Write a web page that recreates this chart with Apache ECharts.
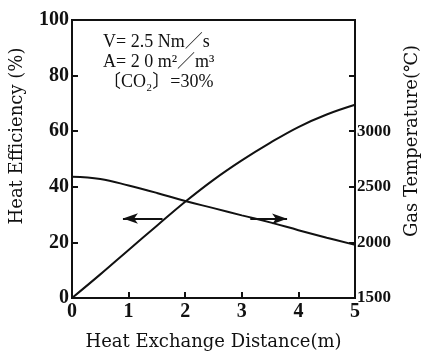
<!DOCTYPE html>
<html>
<head>
<meta charset="utf-8">
<script src="https://cdn.jsdelivr.net/npm/echarts@6/dist/echarts.min.js"></script>
<style>
  html, body { margin: 0; padding: 0; background: #fff; }
  #chart { width: 429px; height: 356px; }
</style>
</head>
<body>
<div id="chart"></div>
<script>
// distance along the exchanger (m)
const distance = [0, 0.5, 1, 1.5, 2, 2.5, 3, 3.5, 4, 4.5, 5];
// heat efficiency (%) - left axis
const efficiency = [0, 8.5, 17.3, 26, 34.6, 42.5, 49.5, 55.8, 61.5, 66, 69.5];
// gas temperature (C) - right axis
const gasTemp = [2590, 2570, 2512, 2445, 2372, 2308, 2243, 2180, 2110, 2042, 1978];

const xTicks = [0, 1, 2, 3, 4, 5];
const tempLabels = [1500, 2000, 2500, 3000];

const font = 'Liberation Serif';
const titleFont = 'DejaVu Serif';
const ink = '#111';

const chart = echarts.init(document.getElementById('chart'));

const arrowLine = {
  silent: true, symbol: ['none', 'arrow'], symbolSize: [8, 15],
  label: { show: false },
  lineStyle: { color: ink, width: 2, type: 'solid' }
};

const option = {
  animation: false,
  grid: {
    left: 70, right: 72, top: 20, bottom: 53,
    show: true, borderColor: ink, borderWidth: 2
  },
  xAxis: {
    type: 'value', min: 0, max: 5, interval: 1,
    name: 'Heat Exchange Distance(m)',
    nameLocation: 'middle', nameGap: 35,
    nameTextStyle: { fontFamily: titleFont, fontSize: 18, color: ink },
    axisLine: { lineStyle: { color: ink, width: 2 } },
    axisTick: { inside: true, length: 6, lineStyle: { color: ink, width: 2 } },
    axisLabel: {
      fontFamily: font, fontSize: 20, fontWeight: 'bold', color: ink, margin: 4,
      formatter: v => xTicks.includes(v) ? String(v) : ''
    },
    splitLine: { show: false }
  },
  yAxis: [
    {
      type: 'value', min: 0, max: 100, interval: 20,
      name: 'Heat Efficiency (%)',
      nameLocation: 'middle', nameGap: 46, nameRotate: 90,
      nameTextStyle: { fontFamily: titleFont, fontSize: 18, color: ink, padding: [0, 0, 0, 46] },
      axisLine: { show: true, lineStyle: { color: ink, width: 2 } },
      axisTick: { inside: true, length: 6, lineStyle: { color: ink, width: 2 } },
      axisLabel: { fontFamily: font, fontSize: 20, fontWeight: 'bold', color: ink, margin: 3 },
      splitLine: { show: false }
    },
    {
      type: 'value', min: 1500, max: 4000, interval: 500, position: 'right',
      name: 'Gas Temperature(℃)',
      nameLocation: 'middle', nameGap: 48, nameRotate: 90,
      nameTextStyle: { fontFamily: titleFont, fontSize: 18, color: ink, padding: [0, 0, 0, 36] },
      axisLine: { show: true, lineStyle: { color: ink, width: 2 } },
      axisTick: { inside: true, length: 6, lineStyle: { color: ink, width: 2 } },
      axisLabel: {
        fontFamily: font, fontSize: 17, fontWeight: 'bold', color: ink, margin: 2,
        formatter: v => tempLabels.includes(v) ? String(v) : ''
      },
      splitLine: { show: false }
    }
  ],
  graphic: [{
    type: 'text', left: 103, top: 32,
    style: {
      text: 'V= 2.5 Nm／s\nA= 2 0 m²／m³\n〔CO₂〕=30%',
      font: '18px "Liberation Serif", "Noto Sans CJK JP"',
      lineHeight: 20, fill: ink
    }
  }],
  series: [
    {
      name: 'Heat Efficiency', type: 'line', smooth: 0.4,
      showSymbol: false, yAxisIndex: 0,
      data: distance.map((d, i) => [d, efficiency[i]]),
      lineStyle: { color: ink, width: 2 },
      markLine: Object.assign({
        data: [[{ coord: [1.6, 28.6] }, { coord: [0.9, 28.6] }]]
      }, arrowLine)
    },
    {
      name: 'Gas Temperature', type: 'line', smooth: 0.4,
      showSymbol: false, yAxisIndex: 1,
      data: distance.map((d, i) => [d, gasTemp[i]]),
      lineStyle: { color: ink, width: 2 },
      markLine: Object.assign({
        data: [[{ coord: [3.15, 2212] }, { coord: [3.8, 2212] }]]
      }, arrowLine)
    }
  ]
};

chart.setOption(option);
window.addEventListener('resize', () => chart.resize());
</script>
</body>
</html>
